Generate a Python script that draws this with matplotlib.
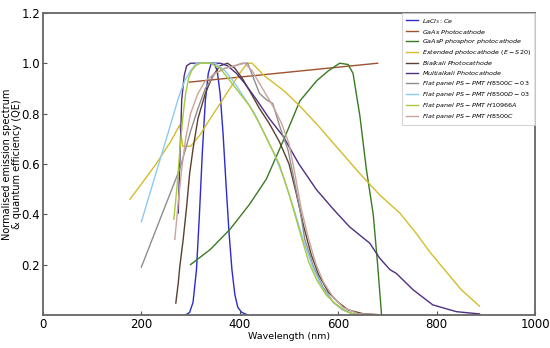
import numpy as np
import matplotlib
matplotlib.use("Agg")
import matplotlib.pyplot as plt

# LaCl3:Ce emission
lacl_wl = [290, 298, 305, 312, 318, 324, 330, 336, 342, 348, 354, 360, 366, 372, 378, 384, 390, 396, 404, 416]
lacl_v = [0, 0.01, 0.05, 0.18, 0.4, 0.65, 0.85, 0.96, 1.0, 1.0, 0.97, 0.88, 0.72, 0.52, 0.33, 0.18, 0.08, 0.03, 0.01, 0]

# GaAs photocathode
gaas_wl = [298, 680]
gaas_v = [0.925, 1.0]

# GaAsP phosphor photocathode
gaasp_wl = [300, 340, 380, 420, 454, 490, 522, 556, 580, 603, 620, 630, 644, 657, 671, 680, 688]
gaasp_v = [0.2, 0.26, 0.34, 0.44, 0.54, 0.7, 0.85, 0.93, 0.97, 1.0, 0.995, 0.96, 0.79, 0.58, 0.4, 0.2, 0.0]

# Extended photocathode (E-S20)
ext_wl = [177, 200, 230, 260, 278, 284, 300, 319, 340, 360, 380, 400, 415, 425, 450, 490, 522, 560, 600, 640, 684, 725, 760, 786, 820, 850, 887]
ext_v = [0.46, 0.52, 0.6, 0.69, 0.755, 0.67, 0.67, 0.715, 0.78, 0.84, 0.9, 0.96, 1.0, 1.0, 0.95, 0.89, 0.83, 0.75, 0.66, 0.57, 0.477, 0.405, 0.32, 0.25, 0.17, 0.1, 0.035]

# Bialkali photocathode
bi_wl = [270, 275, 278, 285, 292, 298, 305, 315, 330, 345, 360, 375, 390, 405, 420, 440, 460, 480, 500, 515, 530, 545, 560, 580, 600, 620, 650, 690]
bi_v = [0.047, 0.127, 0.19, 0.3, 0.43, 0.56, 0.66, 0.78, 0.88, 0.95, 0.99, 1.0, 0.98, 0.94, 0.89, 0.82, 0.76, 0.69, 0.6, 0.48, 0.35, 0.24, 0.16, 0.09, 0.05, 0.02, 0.005, 0]

# Multialkali photocathode
multi_wl = [275, 278, 282, 287, 292, 300, 320, 340, 360, 375, 393, 410, 434, 460, 488, 520, 556, 590, 623, 664, 684, 705, 718, 752, 792, 840, 887]
multi_v = [0.405, 0.6, 0.855, 0.95, 0.99, 1.0, 1.0, 1.0, 1.0, 0.99, 0.96, 0.92, 0.855, 0.78, 0.71, 0.6, 0.497, 0.42, 0.35, 0.285, 0.226, 0.18, 0.165, 0.1, 0.04, 0.013, 0.004]

# Flat panel PS-PMT H8500C-03
h8500c03_wl = [200, 220, 240, 260, 278, 290, 300, 315, 330, 350, 370, 390, 405, 416, 430, 440, 454, 467, 481, 498, 512, 522, 532, 550, 569, 590, 609, 630, 660]
h8500c03_v = [0.19, 0.29, 0.39, 0.49, 0.58, 0.66, 0.73, 0.82, 0.9, 0.96, 0.98, 0.99, 1.0, 1.0, 0.93, 0.88, 0.855, 0.84, 0.75, 0.655, 0.52, 0.42, 0.3, 0.19, 0.11, 0.05, 0.02, 0.005, 0]

# Flat panel PS-PMT H8500D-03
h8500d03_wl = [200, 220, 240, 260, 275, 288, 300, 312, 330, 350, 370, 390, 410, 430, 450, 470, 490, 510, 530, 550, 570, 590, 610, 630, 650]
h8500d03_v = [0.37, 0.5, 0.63, 0.76, 0.86, 0.93, 0.97, 1.0, 1.0, 1.0, 0.97, 0.92, 0.86, 0.8, 0.72, 0.64, 0.54, 0.42, 0.29, 0.18, 0.1, 0.05, 0.02, 0.005, 0]

# Flat panel PS-PMT H10966A
h10966_wl = [266, 272, 278, 284, 290, 296, 302, 310, 320, 340, 360, 380, 400, 420, 440, 460, 480, 500, 522, 540, 556, 575, 597, 620, 640, 680]
h10966_v = [0.38, 0.5, 0.65, 0.78, 0.88, 0.94, 0.97, 0.99, 1.0, 1.0, 0.98, 0.93, 0.88, 0.83, 0.76, 0.68, 0.6, 0.48, 0.33, 0.21, 0.14, 0.08, 0.04, 0.01, 0.0, 0.0]

# Flat panel PS-PMT H8500C
h8500c_wl = [268, 275, 282, 290, 300, 315, 330, 350, 370, 390, 410, 425, 440, 455, 470, 485, 500, 512, 525, 540, 555, 570, 590, 610, 640, 690]
h8500c_v = [0.3, 0.45, 0.58, 0.7, 0.8, 0.88, 0.93, 0.96, 0.98, 0.99, 1.0, 0.97, 0.92, 0.87, 0.82, 0.76, 0.68, 0.56, 0.42, 0.3, 0.2, 0.13, 0.07, 0.03, 0.005, 0]

fig = plt.figure(figsize=(5.5, 3.48), dpi=100)
ax = fig.add_axes([0.078, 0.095, 0.895, 0.868])

lw = 1.0
ax.plot(lacl_wl, lacl_v, color="#2b2bd0", lw=lw, label=r"$LaCl_3 : Ce$")
ax.plot(gaas_wl, gaas_v, color="#a0522d", lw=lw, label=r"$GaAs\ Photocathode$")
ax.plot(gaasp_wl, gaasp_v, color="#3a7a22", lw=lw, label=r"$GaAsP\ phosphor\ photocathode$")
ax.plot(ext_wl, ext_v, color="#d4bc2c", lw=lw, label=r"$Extended\ photocathode\ (E-S20)$")
ax.plot(bi_wl, bi_v, color="#5a4030", lw=lw, label=r"$Bialkali\ Photocathode$")
ax.plot(multi_wl, multi_v, color="#4e2f82", lw=lw, label=r"$Multialkali\ Photocathode$")
ax.plot(h8500c03_wl, h8500c03_v, color="#8e8e8e", lw=lw, label=r"$Flat\ panel\ PS-PMT\ H8500C-03$")
ax.plot(h8500d03_wl, h8500d03_v, color="#8ccaf5", lw=lw, label=r"$Flat\ panel\ PS-PMT\ H8500D-03$")
ax.plot(h10966_wl, h10966_v, color="#a8c93a", lw=lw, label=r"$Flat\ panel\ PS-PMT\ H10966A$")
ax.plot(h8500c_wl, h8500c_v, color="#cba59c", lw=lw, label=r"$Flat\ panel\ PS-PMT\ H8500C$")

ax.set_xlim(0, 1000)
ax.set_ylim(0, 1.2)
ax.set_xticks([0, 200, 400, 600, 800, 1000])
ax.set_yticks([0.2, 0.4, 0.6, 0.8, 1.0, 1.2])
ax.tick_params(direction="in", labelsize=8.5, color="#555555", length=3, pad=2)
for s in ax.spines.values():
    s.set_color("#666666")
    s.set_linewidth(1.3)

ax.set_xlabel("Wavelength (nm)", fontsize=6.8)
ax.set_ylabel("Normalised emission spectrum\n& quantum efficiency (QE)", fontsize=7, linespacing=1.0)
ax.yaxis.set_label_coords(-0.042, 0.5)
ax.xaxis.set_label_coords(0.5, -0.055)

leg = ax.legend(loc="upper right", fontsize=4.6, borderaxespad=0, handlelength=2.0,
                labelspacing=0.3, frameon=True, fancybox=False, borderpad=0.6,
                handletextpad=0.6)
leg.get_frame().set_edgecolor("#cccccc")
leg.get_frame().set_linewidth(0.8)

fig.savefig("out.png", dpi=100)
